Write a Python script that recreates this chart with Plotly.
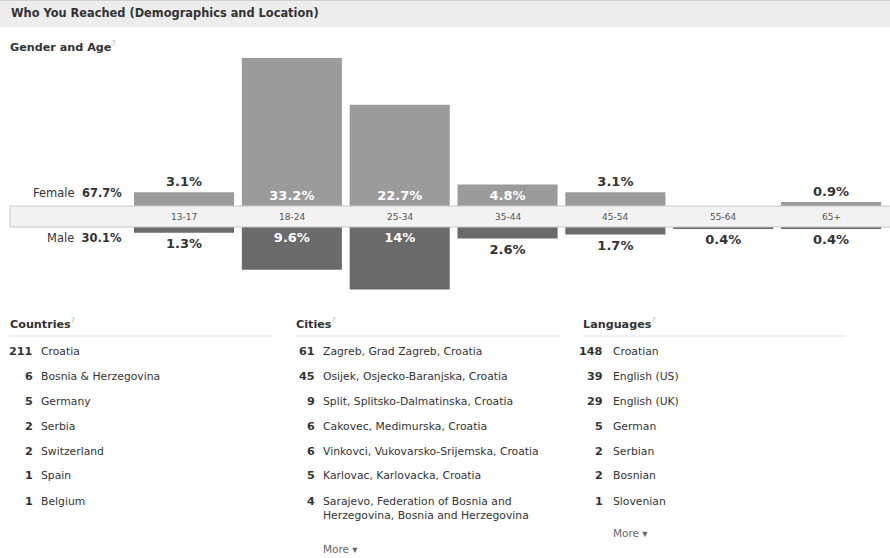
import plotly.graph_objects as go

W, H = 890, 558

# ---------------- data ----------------
age_groups = ["13-17", "18-24", "25-34", "35-44", "45-54", "55-64", "65+"]
female_pct = [3.1, 33.2, 22.7, 4.8, 3.1, 0.0, 0.9]
male_pct = [1.3, 9.6, 14.0, 2.6, 1.7, 0.4, 0.4]
female_labels = ["3.1%", "33.2%", "22.7%", "4.8%", "3.1%", "", "0.9%"]
male_labels = ["1.3%", "9.6%", "14%", "2.6%", "1.7%", "0.4%", "0.4%"]
female_total = "67.7%"
male_total = "30.1%"

country_counts = [211, 6, 5, 2, 2, 1, 1]
country_names = ["Croatia", "Bosnia &amp; Herzegovina", "Germany", "Serbia",
                 "Switzerland", "Spain", "Belgium"]

city_counts = [61, 45, 9, 6, 6, 5, 4]
city_names = ["Zagreb, Grad Zagreb, Croatia",
              "Osijek, Osjecko-Baranjska, Croatia",
              "Split, Splitsko-Dalmatinska, Croatia",
              "Cakovec, Medimurska, Croatia",
              "Vinkovci, Vukovarsko-Srijemska, Croatia",
              "Karlovac, Karlovacka, Croatia",
              "Sarajevo, Federation of Bosnia and<br>Herzegovina, Bosnia and Herzegovina"]

language_counts = [148, 39, 29, 5, 2, 2, 1]
language_names = ["Croatian", "English (US)", "English (UK)", "German",
                  "Serbian", "Bosnian", "Slovenian"]

# ---------------- helpers ----------------
FONT = "DejaVu Sans"
TXT = "#333333"


def py(px):
    return 1 - px / H


def pxx(px):
    return px / W


SCALE = 4.46  # px per percent
BAND_TOP, BAND_BOT = 206, 227
F_TOP = 50
M_BOT = 300

FEMALE_C = "#9b9b9b"
MALE_C = "#6a6a6a"

fig = go.Figure()


def positions(vals, labels):
    out = []
    for v, t in zip(vals, labels):
        if not t:
            out.append("none")
        elif v >= 4:
            out.append("inside")
        else:
            out.append("outside")
    return out


f_pos = positions(female_pct, female_labels)
m_pos = positions(male_pct, male_labels)

fig.add_trace(go.Bar(
    x=age_groups, y=female_pct, xaxis="x", yaxis="y",
    marker=dict(color=FEMALE_C, line=dict(width=0)),
    text=female_labels, textposition=f_pos, insidetextanchor="start",
    insidetextfont=dict(color="white", size=13, family=FONT),
    outsidetextfont=dict(color=TXT, size=13, family=FONT),
    texttemplate="<b>%{text}</b>", cliponaxis=False, hoverinfo="skip",
    showlegend=False,
))
fig.add_trace(go.Bar(
    x=age_groups, y=male_pct, xaxis="x2", yaxis="y2",
    marker=dict(color=MALE_C, line=dict(width=0)),
    text=male_labels, textposition=m_pos, insidetextanchor="start",
    insidetextfont=dict(color="white", size=13, family=FONT),
    outsidetextfont=dict(color=TXT, size=13, family=FONT),
    texttemplate="<b>%{text}</b>", cliponaxis=False, hoverinfo="skip",
    showlegend=False,
))

xdom = [pxx(130.1), pxx(885.0)]
axis_common = dict(showgrid=False, zeroline=False, showline=False,
                   showticklabels=False, ticks="", fixedrange=True)

shapes = []
annotations = []

# header bar
shapes.append(dict(type="rect", xref="paper", yref="paper", x0=0, x1=1,
                   y0=py(27), y1=py(0), fillcolor="#ededed",
                   line=dict(width=0), layer="below"))
shapes.append(dict(type="line", xref="paper", yref="paper", x0=0, x1=1,
                   y0=py(0.5), y1=py(0.5), line=dict(color="#d0d0d0", width=1)))
annotations.append(dict(xref="paper", yref="paper", x=pxx(9), y=py(13.5),
                        xanchor="left", yanchor="middle", showarrow=False,
                        text="<b>Who You Reached (Demographics and Location)</b>",
                        font=dict(family=FONT, size=11.4, color=TXT)))

Q = "<span style='color:#bbbbbb;font-weight:normal'><sup>?</sup></span>"

annotations.append(dict(xref="paper", yref="paper", x=pxx(8), y=py(47),
                        xanchor="left", yanchor="middle", showarrow=False,
                        text="<b>Gender and Age</b>" + Q,
                        font=dict(family=FONT, size=11.2, color=TXT)))

# age band
shapes.append(dict(type="rect", xref="paper", yref="paper", x0=pxx(10), x1=pxx(891),
                   y0=py(BAND_BOT), y1=py(BAND_TOP), fillcolor="#f2f2f2",
                   line=dict(color="#c8c8c8", width=1), layer="above"))
for g in age_groups:
    annotations.append(dict(xref="x", yref="paper", x=g, y=py(216.5),
                            xanchor="center", yanchor="middle", showarrow=False,
                            text=g, font=dict(family=FONT, size=9, color="#555555")))

annotations.append(dict(xref="paper", yref="paper", x=pxx(124), y=py(193),
                        xanchor="right", yanchor="middle", showarrow=False,
                        text="Female  <b>" + female_total + "</b>",
                        font=dict(family=FONT, size=11.5, color=TXT)))
annotations.append(dict(xref="paper", yref="paper", x=pxx(124), y=py(238),
                        xanchor="right", yanchor="middle", showarrow=False,
                        text="Male  <b>" + male_total + "</b>",
                        font=dict(family=FONT, size=11.5, color=TXT)))

# lists
ROW0 = 351
ROWSTEP = 25


def add_list(title, x_left, line_right, num_right, name_left, counts, names, more_y):
    annotations.append(dict(xref="paper", yref="paper", x=pxx(x_left - 1), y=py(323),
                            xanchor="left", yanchor="middle", showarrow=False,
                            text="<b>" + title + "</b>" + Q,
                            font=dict(family=FONT, size=11.2, color=TXT)))
    shapes.append(dict(type="line", xref="paper", yref="paper",
                       x0=pxx(x_left), x1=pxx(line_right), y0=py(336), y1=py(336),
                       line=dict(color="#e3e3e3", width=1)))
    for i, (c, n) in enumerate(zip(counts, names)):
        yy = ROW0 + i * ROWSTEP
        annotations.append(dict(xref="paper", yref="paper", x=pxx(num_right), y=py(yy),
                                xanchor="right", yanchor="middle", showarrow=False,
                                text="<b>%d</b>" % c,
                                font=dict(family=FONT, size=11.2, color=TXT)))
        two = "<br>" in n
        annotations.append(dict(xref="paper", yref="paper", x=pxx(name_left - 1),
                                y=py(yy - 8) if two else py(yy),
                                xanchor="left", yanchor="top" if two else "middle",
                                align="left", showarrow=False, text=n,
                                font=dict(family=FONT, size=10.8, color=TXT)))
    if more_y is not None:
        annotations.append(dict(xref="paper", yref="paper", x=pxx(name_left - 1), y=py(more_y),
                                xanchor="left", yanchor="middle", showarrow=False,
                                text="More ▾",
                                font=dict(family=FONT, size=10.5, color="#666666")))


add_list("Countries", 9, 273, 35, 40, country_counts, country_names, None)
add_list("Cities", 295, 560, 317, 322, city_counts, city_names, 549)
add_list("Languages", 582, 846, 605, 612, language_counts, language_names, 533)

fig.update_layout(
    width=W, height=H, margin=dict(l=0, r=0, t=0, b=0),
    paper_bgcolor="white", plot_bgcolor="rgba(0,0,0,0)",
    bargap=0.072,
    xaxis=dict(domain=xdom, anchor="y", type="category", **axis_common),
    yaxis=dict(domain=[py(BAND_TOP), py(F_TOP)],
               range=[0, (BAND_TOP - F_TOP) / SCALE], anchor="x", **axis_common),
    xaxis2=dict(domain=xdom, anchor="y2", type="category", matches="x", **axis_common),
    yaxis2=dict(domain=[py(M_BOT), py(BAND_BOT)],
                range=[(M_BOT - BAND_BOT) / SCALE, 0], anchor="x2", **axis_common),
    shapes=shapes, annotations=annotations,
    font=dict(family=FONT, color=TXT),
)

fig.write_html("out.html", config={"displayModeBar": False},
               post_script="document.body.style.margin='0';document.body.style.overflow='hidden';")
